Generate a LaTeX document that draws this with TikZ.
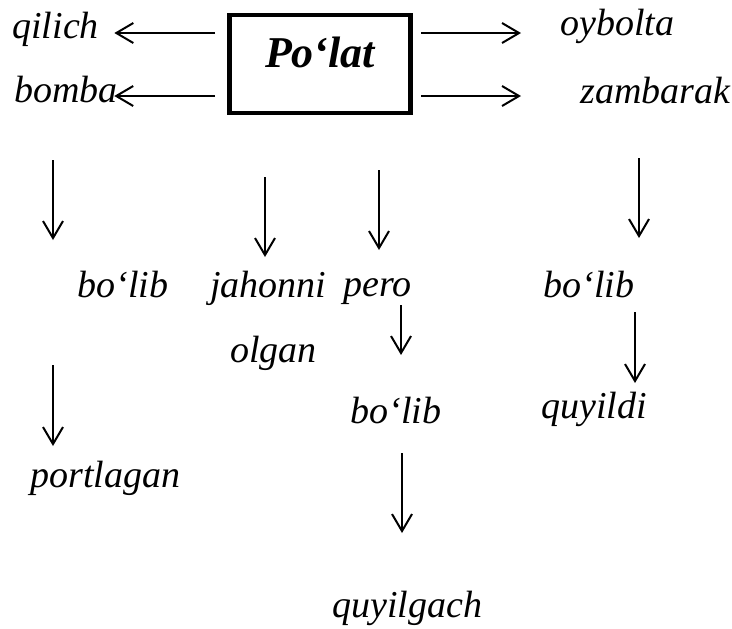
\documentclass[tikz,border=0pt]{standalone}
\usepackage{fontspec}
\setmainfont{Liberation Serif}
\usetikzlibrary{arrows.meta}

\begin{document}
\begin{tikzpicture}[
  x=0.5pt, y=-0.5pt,
  word/.style={anchor=base west, inner sep=0pt, font=\fontsize{19}{23}\selectfont\itshape},
  headbox/.style={draw, line width=2.4pt, inner sep=0pt, minimum width=90.5pt, text height=26pt, text depth=23pt, align=center, font=\fontsize{22}{26}\selectfont\bfseries\itshape},
  arrow/.style={-{Straight Barb[length=8.5pt,width=10pt]}, line width=1pt}
]
  \useasboundingbox (0,0) rectangle (732,628);

  % Central box
  \node[headbox, anchor=base] (polat) at (320,67) {Po‘lat};

  % Words beside the box
  \node[word] (qilich) at (12,38) {qilich};
  \node[word] (bomba) at (14,102) {bomba};
  \node[word] (oybolta) at (560,35) {oybolta};
  \node[word] (zambarak) at (580,103) {zambarak};

  % Words below
  \node[word] (bolibA) at (77,297) {bo‘lib};
  \node[word] (jahonni) at (210,297) {jahonni};
  \node[word] (olgan) at (230,362) {olgan};
  \node[word] (pero) at (343,296) {pero};
  \node[word] (bolibB) at (350,423) {bo‘lib};
  \node[word] (quyilgach) at (332,617) {quyilgach};
  \node[word] (bolibC) at (543,297) {bo‘lib};
  \node[word] (quyildi) at (541,418) {quyildi};
  \node[word] (portlagan) at (30,487) {portlagan};

  % Horizontal arrows
  \draw[arrow, shorten >=7.5pt] ([xshift=-6pt,yshift=15.5pt]polat.west) coordinate (qs) -- (qs -| qilich.east);
  \draw[arrow, shorten >=-2pt] ([xshift=-6pt,yshift=-16pt]polat.west) coordinate (bs) -- (bs -| bomba.east);
  \draw[arrow, shorten >=19.5pt] ([xshift=4.25pt,yshift=15.5pt]polat.east) coordinate (os) -- (os -| oybolta.west);
  \draw[arrow, shorten >=29.5pt] ([xshift=4.25pt,yshift=-16pt]polat.east) coordinate (zs) -- (zs -| zambarak.west);

  % Vertical arrows
  \coordinate (vA1) at (53,160);  \coordinate (vA2) at (53,240);
  \coordinate (vB1) at (265,177); \coordinate (vB2) at (265,257);
  \coordinate (vC1) at (379,170); \coordinate (vC2) at (379,250);
  \coordinate (vD1) at (401,305); \coordinate (vD2) at (401,355);
  \coordinate (vE1) at (402,453); \coordinate (vE2) at (402,533);
  \coordinate (vF1) at (639,158); \coordinate (vF2) at (639,238);
  \coordinate (vG1) at (635,312); \coordinate (vG2) at (635,383);
  \coordinate (vH1) at (53,365);  \coordinate (vH2) at (53,446);

  \draw[arrow] (vA1) -- (vA2);
  \draw[arrow] (vB1) -- (vB2);
  \draw[arrow] (vC1) -- (vC2);
  \draw[arrow] (vD1) -- (vD2);
  \draw[arrow] (vE1) -- (vE2);
  \draw[arrow] (vF1) -- (vF2);
  \draw[arrow] (vG1) -- (vG2);
  \draw[arrow] (vH1) -- (vH2);
\end{tikzpicture}
\end{document}
